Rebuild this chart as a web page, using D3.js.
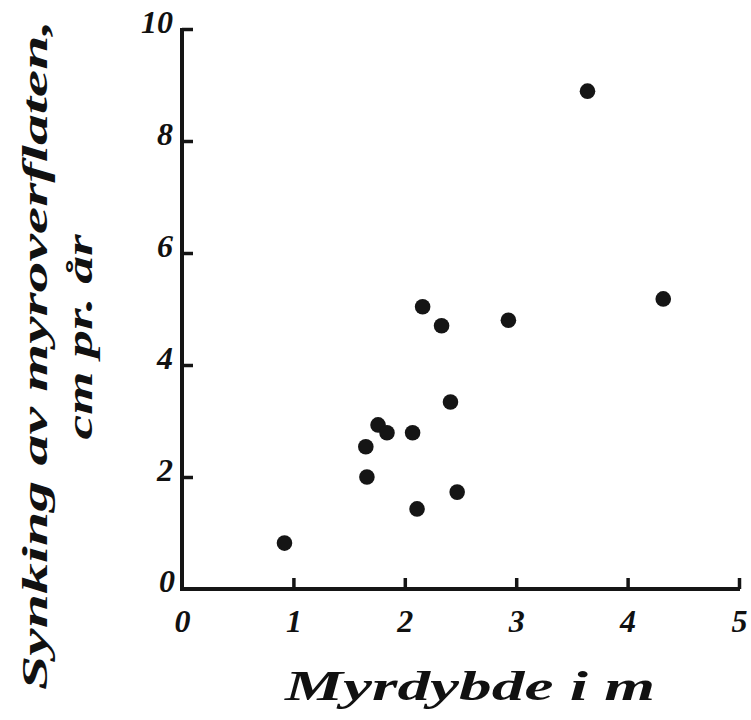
<!DOCTYPE html>
<html>
<head>
<meta charset="utf-8">
<script src="https://cdn.jsdelivr.net/npm/d3@7"></script>
<style>
  html, body { margin: 0; padding: 0; background: #ffffff; }
  svg { display: block; }
  .hand { font-family: "Liberation Serif", "DejaVu Serif", serif; font-style: italic; font-weight: bold; fill: #111; }
</style>
</head>
<body>
<script>
// Data
const depth   = [0.92, 2.16, 2.33, 2.93, 2.41, 1.76, 1.84, 2.07, 1.65, 1.66, 2.47, 2.11, 3.64, 4.32]; // Myrdybde, m
const sinking = [0.82, 5.04, 4.70, 4.80, 3.34, 2.93, 2.79, 2.79, 2.54, 2.00, 1.73, 1.43, 8.89, 5.18]; // cm pr. år
const xTicks = [0, 1, 2, 3, 4, 5];
const yTicks = [0, 2, 4, 6, 8, 10];
const xTitle = "Myrdybde i m";
const yTitle1 = "Synking av myroverflaten,";
const yTitle2 = "cm pr. år";

const W = 751, H = 720;
const svg = d3.select("body").append("svg").attr("width", W).attr("height", H);
svg.append("rect").attr("width", W).attr("height", H).attr("fill", "#fff");

const x = d3.scaleLinear().domain([0, 5]).range([182, 739]);
const y = d3.scaleLinear().domain([0, 10]).range([589, 29]);

const ink = "#151515";
const fmt = d3.format("d");

// Y axis
const gy = svg.append("g").attr("transform", `translate(${x(0)},0)`)
  .call(d3.axisLeft(y).tickValues(yTicks.filter(d => d !== 0)).tickFormat(fmt)
    .tickSize(-11).tickPadding(9).tickSizeOuter(0));
gy.select(".domain").remove();
gy.selectAll(".tick line").attr("stroke", ink).attr("stroke-width", 3.5);
gy.selectAll(".tick text").attr("class", "hand").attr("font-size", 32).attr("dy", "0.1em").attr("fill", ink);
// Zero label
svg.append("text").attr("class", "hand").attr("x", x(0) - 7).attr("y", y(0) + 3)
  .attr("text-anchor", "end").attr("font-size", 32).text(fmt(yTicks[0]));

// X axis
const gx = svg.append("g").attr("transform", `translate(0,${y(0)})`)
  .call(d3.axisBottom(x).tickValues(xTicks).tickFormat(fmt)
    .tickSize(-11).tickPadding(20).tickSizeOuter(0));
gx.select(".domain").remove();
gx.selectAll(".tick line").attr("stroke", ink).attr("stroke-width", 3.5)
  .attr("opacity", d => d === 0 ? 0 : 1);
gx.selectAll(".tick text").attr("class", "hand").attr("font-size", 32).attr("fill", ink);

// Axis lines
svg.append("line").attr("x1", x(0)).attr("x2", x(0)).attr("y1", y(10) - 1).attr("y2", y(0) + 2)
  .attr("stroke", ink).attr("stroke-width", 4);
svg.append("line").attr("x1", x(0) - 2).attr("x2", x(5) + 1).attr("y1", y(0)).attr("y2", y(0))
  .attr("stroke", ink).attr("stroke-width", 4);

// Points
svg.append("g").selectAll("circle").data(depth.map((d, i) => [d, sinking[i]])).join("circle")
  .attr("cx", d => x(d[0])).attr("cy", d => y(d[1])).attr("r", 7.8).attr("fill", ink);

// X title
svg.append("text").attr("class", "hand").attr("x", 470).attr("y", 700)
  .attr("text-anchor", "middle").attr("font-size", 42)
  .attr("textLength", 370).attr("lengthAdjust", "spacingAndGlyphs").text(xTitle);

// Y title
svg.append("text").attr("class", "hand").attr("transform", "translate(47,355) rotate(-90)")
  .attr("text-anchor", "middle").attr("font-size", 36)
  .attr("textLength", 670).attr("lengthAdjust", "spacingAndGlyphs").text(yTitle1);
svg.append("text").attr("class", "hand").attr("transform", "translate(92,337) rotate(-90)")
  .attr("text-anchor", "middle").attr("font-size", 36)
  .attr("textLength", 205).attr("lengthAdjust", "spacingAndGlyphs").text(yTitle2);
</script>
</body>
</html>
